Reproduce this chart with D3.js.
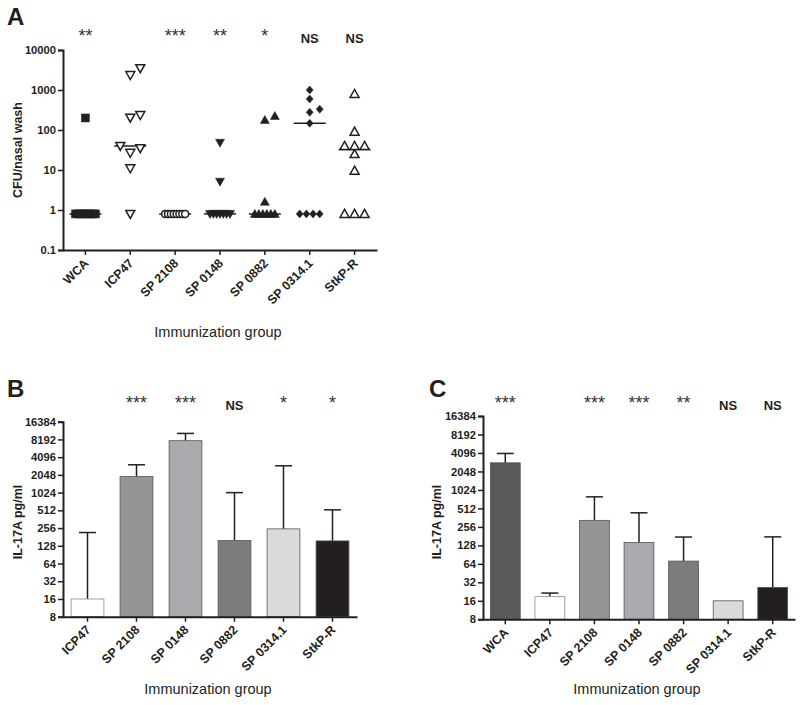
<!DOCTYPE html>
<html><head><meta charset="utf-8">
<script src="https://cdn.jsdelivr.net/npm/d3@7"></script>
<style>body{margin:0;background:#fff} svg{font-family:Arial,"Liberation Sans",sans-serif}</style>
</head><body><svg id="c" width="800" height="705"></svg>
<script>
// ---------- DATA ----------
const groupsA = ["WCA","ICP47","SP 2108","SP 0148","SP 0882","SP 0314.1","StkP-R"];
const cfuWCA    = [0.8,0.8,0.8,0.8,0.8,0.8,0.8,0.8,200];
const cfuICP47  = [0.8,11,27,35,40,203,237,2370,3500];
const cfuSP2108 = [0.8,0.8,0.8,0.8,0.8,0.8,0.8,0.8];
const cfuSP0148 = [0.8,0.8,0.8,0.8,0.8,0.8,0.8,5.1,48];
const cfuSP0882 = [0.8,0.8,0.8,0.8,0.8,0.8,1.6,178,224];
const cfuSP0314 = [0.8,0.8,0.8,0.8,147,277,330,595,1000];
const cfuStkPR  = [0.8,0.8,0.8,9.6,25,40,40,40,91,794];
const sigA = ["**","","***","**","*","NS","NS"];
const tickValsA = [0.1,1,10,100,1000,10000];
const tickLabsA = ["0.1","1","10","100","1000","10000"];

const groupsB = ["ICP47","SP 2108","SP 0148","SP 0882","SP 0314.1","StkP-R"];
const meanB = [16,1925,7800,157,248,155];
const errB  = [215,3040,10360,1024,2920,522];
const sigB  = ["","***","***","NS","*","*"];

const groupsC = ["WCA","ICP47","SP 2108","SP 0148","SP 0882","SP 0314.1","StkP-R"];
const meanC = [2830,18.7,327,143,71,16,26.5];
const errC  = [4020,21.4,790,434,175,null,176];
const sigC  = ["***","","***","***","**","NS","NS"];

const tickValsIL = [8,16,32,64,128,256,512,1024,2048,4096,8192,16384];
const tickLabsIL = ["8","16","32","64","128","256","512","1024","2048","4096","8192","16384"];

// ---------- STYLE ----------
const barColors = {"WCA":"#58595b","ICP47":"#ffffff","SP 2108":"#959596","SP 0148":"#a9aaae","SP 0882":"#7b7c7e","SP 0314.1":"#d9dadb","StkP-R":"#231f20"};
const markers = ["square","invTriOpen","circleOpen","invTriFill","triFill","diamond","triOpen"];
const ink = "#231f20";

const svg = d3.select("#c");

function yAxis(g, scale, vals, labs, x){
  const ax = d3.axisLeft(scale).tickValues(vals).tickFormat((d,i)=>labs[i]).tickSize(5).tickPadding(2);
  const gg = g.append("g").attr("transform",`translate(${x},0)`).call(ax);
  gg.select(".domain").attr("stroke",ink).attr("stroke-width",2);
  gg.selectAll(".tick line").attr("stroke",ink).attr("stroke-width",1.5);
  gg.selectAll(".tick text").attr("fill",ink).attr("font-size",11.2).attr("font-weight","bold").attr("font-family","Arial, 'Liberation Sans', sans-serif");
}
function xAxis(g, scale, y){
  const ax = d3.axisBottom(scale).tickSize(5).tickSizeOuter(0);
  const gg = g.append("g").attr("transform",`translate(0,${y})`).call(ax);
  gg.select(".domain").attr("stroke",ink).attr("stroke-width",2);
  gg.selectAll(".tick line").attr("stroke",ink).attr("stroke-width",1.5);
  gg.selectAll(".tick text").attr("fill",ink).attr("font-size",12.5).attr("font-weight","bold")
    .attr("font-family","Arial, 'Liberation Sans', sans-serif")
    .attr("text-anchor","end").attr("dy",0).attr("y",0)
    .attr("transform","translate(4,14) rotate(-45)");
}
function label(txt,x,y,opts={}){
  const t = svg.append("text").attr("x",x).attr("y",y).text(txt).attr("fill",ink)
    .attr("font-size",opts.size||13).attr("font-weight",opts.weight||"bold")
    .attr("text-anchor",opts.anchor||"middle");
  if(opts.rotate) t.attr("transform",`rotate(-90,${x},${y})`);
  return t;
}
function sig(txt,x,y){
  if(!txt) return;
  if(txt==="NS") label(txt,x,y,{size:13});
  else svg.append("text").attr("x",x).attr("y",y-1).text(txt).attr("text-anchor","middle")
      .attr("font-size",18).attr("fill","#333");
}

// ---------- PANEL A ----------
const xA = d3.scaleBand().domain(groupsA).range([63,377]);
const yA = d3.scaleLog().domain([0.1,10000]).range([250,50]);
const gA = svg.append("g");
const seriesA = [cfuWCA,cfuICP47,cfuSP2108,cfuSP0148,cfuSP0882,cfuSP0314,cfuStkPR];

function place(values, xc, d, maxW){
  const counts = d3.rollup(values, v=>v.length, v=>v);
  const idx = new Map(); const placed = [];
  for(const v of values.slice().sort((a,b)=>a-b)){
    const n = counts.get(v), yy = yA(v);
    if(n>=3){
      const i = idx.get(v)||0; idx.set(v,i+1);
      const s = Math.min(d, maxW/(n-1));
      placed.push({v,x:xc+(i-(n-1)/2)*s,y:yy});
    } else {
      for(const k of [0,1,-1,2,-2,3,-3]){
        const xx = xc+k*d;
        if(!placed.some(p=>Math.abs(p.x-xx)<d*0.9 && Math.abs(p.y-yy)<8)){placed.push({v,x:xx,y:yy});break;}
      }
    }
  }
  return placed;
}
function markerPath(type){
  switch(type){
    case "square": return "M-4,-4H4V4H-4Z";
    case "invTriOpen": case "invTriFill": return "M-4.5,-3.5H4.5L0,4.5Z";
    case "triOpen": case "triFill": return "M0,-4.5L4.5,3.5H-4.5Z";
    case "diamond": return "M0,-4L3.5,0L0,4L-3.5,0Z";
    case "circleOpen": return "M3.5,0A3.5,3.5 0 1 1 -3.5,0A3.5,3.5 0 1 1 3.5,0Z";
  }
}
seriesA.forEach((vals,gi)=>{
  const xc = xA(groupsA[gi]) + xA.bandwidth()/2;
  const m = d3.median(vals);
  const pts = place(vals, xc, 10, 20);
  const type = markers[gi];
  const open = type.includes("Open");
  gA.append("line").attr("x1",xc-16).attr("x2",xc+16).attr("y1",yA(m)).attr("y2",yA(m))
    .attr("stroke",ink).attr("stroke-width",1.5);
  gA.selectAll(null).data(pts).join("path")
    .attr("d",markerPath(type)).attr("transform",d=>`translate(${d.x},${d.y})`)
    .attr("fill",open?"#fff":ink).attr("stroke",ink).attr("stroke-width",open?1.5:0.5);
  sig(sigA[gi], xc, 43);
});
yAxis(gA, yA, tickValsA, tickLabsA, 63);
xAxis(gA, xA, 250);
label("A",7,25,{size:24,anchor:"start"});
label("CFU/nasal wash",22,150,{size:12.5,rotate:true});
label("Immunization group",218,337,{size:14.5,weight:"normal"});

// ---------- BAR PANELS ----------
function barPanel(groups, means, errs, sigs, x0, x1, yTop, yBot, letter, letterX, titleX, ylabX){
  const g = svg.append("g");
  const x = d3.scaleBand().domain(groups).range([x0,x1]).paddingInner(0.33).paddingOuter(0.165);
  const y = d3.scaleLog().base(2).domain([8,16384]).range([yBot,yTop]);
  const bw = x.bandwidth();
  groups.forEach((grp,i)=>{
    const xc = x(grp)+bw/2;
    if(errs[i]!=null){
      g.append("line").attr("x1",xc).attr("x2",xc).attr("y1",y(means[i])).attr("y2",y(errs[i])).attr("stroke",ink).attr("stroke-width",1.5);
      g.append("line").attr("x1",xc-8.5).attr("x2",xc+8.5).attr("y1",y(errs[i])).attr("y2",y(errs[i])).attr("stroke",ink).attr("stroke-width",1.5);
    }
    g.append("rect").attr("x",x(grp)).attr("width",bw).attr("y",y(means[i])).attr("height",yBot-y(means[i]))
      .attr("fill",barColors[grp]).attr("stroke",grp==="ICP47"?"#8a8a8a":"#555").attr("stroke-width",0.8);
    sig(sigs[i], xc, 410);
  });
  yAxis(g, y, tickValsIL, tickLabsIL, x0);
  xAxis(g, x, yBot);
  label(letter,letterX,397,{size:24,anchor:"start"});
  label("IL-17A pg/ml",ylabX,522,{size:12.5,rotate:true});
  label("Immunization group",titleX,694,{size:14.5,weight:"normal"});
}
barPanel(groupsB, meanB, errB, sigB, 63, 357, 421.7, 616.7, "B", 7, 208, 22);
barPanel(groupsC, meanC, errC, sigC, 483, 795, 416, 619.3, "C", 429, 637, 441);
</script></body></html>
